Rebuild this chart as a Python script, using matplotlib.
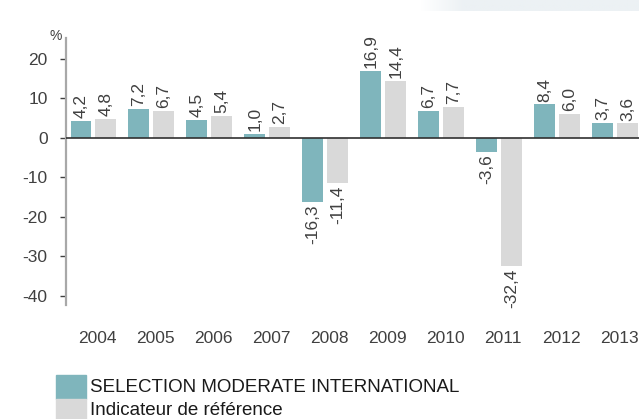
import numpy as np
import matplotlib
matplotlib.use("Agg")
import matplotlib.pyplot as plt
from matplotlib.patches import Rectangle

plt.rcParams['font.family'] = ['Liberation Sans', 'DejaVu Sans']

years = ['2004', '2005', '2006', '2007', '2008', '2009', '2010', '2011', '2012', '2013']
fund = [4.2, 7.2, 4.5, 1.0, -16.3, 16.9, 6.7, -3.6, 8.4, 3.7]
bench = [4.8, 6.7, 5.4, 2.7, -11.4, 14.4, 7.7, -32.4, 6.0, 3.6]
series_names = ['SELECTION MODERATE INTERNATIONAL', 'Indicateur de référence']
yticks = [20, 10, 0, -10, -20, -30, -40]

teal = '#7fb5bc'
grey = '#d9d9d9'
txt = '#404040'

W, H = 639, 419
fig = plt.figure(figsize=(W / 100, H / 100), dpi=100)

# decorative band top right
bg = fig.add_axes([420 / W, 1 - 11 / H, 219 / W, 11 / H])
grad = np.clip(np.linspace(0, 1, 200) / 0.2, 0, 1)[None, :]
from matplotlib.colors import LinearSegmentedColormap
cm = LinearSegmentedColormap.from_list('b', ['#ffffff', '#ecf1f4'])
bg.imshow(grad, aspect='auto', cmap=cm, vmin=0, vmax=1)
bg.axis('off')

ax = fig.add_axes([65.7 / W, 1 - 305 / H, (W - 65.7) / W, (305 - 38) / H])

x = np.arange(len(years))
bw = 0.36
off = 0.215
b1 = ax.bar(x - off, fund, bw, color=teal, zorder=2)
b2 = ax.bar(x + off, bench, bw, color=grey, zorder=2)

def fmt(v):
    return f"{v:.1f}".replace('.', ',')

for bars, vals in ((b1, fund), (b2, bench)):
    for b, v in zip(bars, vals):
        cx = b.get_x() + b.get_width() / 2
        if v >= 0:
            ax.annotate(fmt(v), (cx, v), xytext=(0, 2), textcoords='offset points',
                        rotation=90, ha='center', va='bottom', fontsize=12.5, color=txt)
        else:
            ax.annotate(fmt(v), (cx, v), xytext=(0, -2), textcoords='offset points',
                        rotation=90, ha='center', va='top', fontsize=12.5, color=txt)

ax.axhline(0, color='#303030', lw=1.2, zorder=3)

ax.set_xlim(-0.478, 9.41)
ax.set_ylim(-42.35, 25.2)

ax.set_xticks(x + 0.07)
ax.set_xticklabels(years)
ax.tick_params(axis='x', length=0, pad=19, labelsize=12.5, labelcolor=txt)
ax.set_yticks(yticks)
ax.set_yticklabels([str(t) for t in yticks])
ax.tick_params(axis='y', length=4, width=1, color='#404040', pad=9,
               labelsize=12.5, labelcolor=txt)

for s in ('top', 'right', 'bottom'):
    ax.spines[s].set_visible(False)
ax.spines['left'].set_color('#a8a8a8')
ax.spines['left'].set_linewidth(1.6)

fig.text(56 / W, 1 - 36.5 / H, '%', ha='center', va='center', fontsize=10, color=txt)

# legend
fig.add_artist(Rectangle((56 / W, 1 - 399 / H), 30 / W, 24 / H,
                         transform=fig.transFigure, color=teal))
fig.add_artist(Rectangle((56 / W, 1 - 423 / H), 30 / W, 24 / H,
                         transform=fig.transFigure, color=grey))
fig.text(90 / W, 1 - 387 / H, series_names[0], ha='left', va='center',
         fontsize=13.5, color='#1a1a1a')
fig.text(90 / W, 1 - 410 / H, series_names[1], ha='left', va='center',
         fontsize=13.5, color='#1a1a1a')

fig.savefig('out.png', dpi=100)
